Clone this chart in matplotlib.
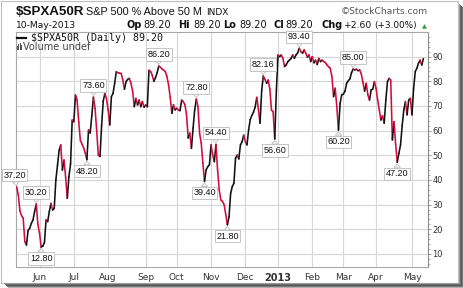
import matplotlib
matplotlib.use('Agg')
import matplotlib.pyplot as plt
from matplotlib.collections import LineCollection
from matplotlib.patches import Rectangle
import numpy as np
import pandas as pd

# NYSE holidays in the range (trading days only on the x axis)
holidays = ['2012-05-28', '2012-07-04', '2012-09-03', '2012-10-29', '2012-10-30',
            '2012-11-22', '2012-12-25', '2013-01-01', '2013-01-21', '2013-02-18',
            '2013-03-29']

# % of S&P 500 stocks above 50-day MA, daily closes, by month
may12 = [37.2, 34, 27.5, 25.5, 24.5, 15, 13.6, 19.5, 20.4, 22.4, 23.8, 27.2, 30.2, 22]
jun12 = [18.4, 12.8, 13.2, 14.5, 23.8, 23.1, 27.2, 30.5, 27.8, 28.5, 40, 46, 52, 54.2,
         44, 48.1, 41, 32.6, 41.4, 46.5, 64.3]
jul12 = [63.6, 74.5, 72.4, 63.6, 56, 54.5, 53, 51, 48.2, 60.3, 59, 66, 73.6, 69, 60,
         50, 49.5, 62, 72, 75.1, 73]
aug12 = [68.4, 62.3, 73.8, 75.1, 79.2, 83.9, 83.5, 83.3, 83.2, 80.5, 76.8, 79.9, 80.8,
         81.2, 79.2, 76, 69.7, 73.1, 70.4, 72.4, 69.7, 71.8, 69.5]
sep12 = [70.4, 69.7, 84.5, 84, 82.5, 80, 81.5, 83.5, 86.2, 85.7, 85, 84.5, 83.9, 82,
         78.5, 73.5, 67, 70.5, 68.4]
oct12 = [69.1, 68.4, 68.1, 72.4, 71.8, 70.5, 66.5, 57, 59, 52.8, 61, 68.4, 72.8, 69.7,
         58.9, 54.9, 46.8, 39.4, 44.1, 45.4, 46.1]
nov12 = [54.2, 50.1, 47.4, 54.4, 44.1, 36, 31.9, 31.3, 30, 26, 21.8, 25, 34.6, 37.3,
         38.7, 48.8, 50.1, 48.5, 54.2, 55.5, 58.2]
dec12 = [55.5, 54.2, 60.3, 64.5, 66.2, 67.5, 69.5, 73.5, 68.6, 63, 76.2, 82.16, 80.8,
         79.2, 80.5, 76.8, 68.3, 67.7, 56.6, 76.5]
jan13 = [90.7, 90, 90.7, 89.3, 86, 86.6, 88, 88.6, 89.3, 90.7, 89.3, 90.7, 91.5, 93.4,
         92, 91.4, 92.7, 91.4, 89.8, 90.7, 88]
feb13 = [90, 87.5, 88.6, 86.8, 89.3, 88, 88.6, 88, 87.6, 86.6, 85.9, 85.3, 81.9, 73.8,
         77.2, 69.7, 60.2, 71, 74.5]
mar13 = [74.8, 76, 79.2, 80.2, 81, 83.5, 85, 84.6, 84.9, 84.3, 84.6, 83, 79.5, 76,
         79.2, 74.5, 72.4, 76.5, 76.8, 79.9]
apr13 = [77.2, 72.4, 68.4, 64.3, 66, 63, 72.4, 79.9, 81.2, 80.5, 56.2, 63.6, 54.5, 47.2,
         50.8, 54.2, 62, 68.4, 71.8, 66.4, 72.4, 73.1]
may13 = [66.4, 77, 83.9, 85.3, 87.3, 88.6, 86.6, 89.2]

values = may12 + jun12 + jul12 + aug12 + sep12 + oct12 + nov12 + dec12 + jan13 + feb13 + mar13 + apr13 + may13

# indexes of the annotated highs / lows (+1 above, -1 below)
label_idx = [0, 12, 15, 43, 47, 87, 110, 115, 122, 129, 151, 158, 173, 197, 206, 233]
label_side = [1, 1, -1, -1, 1, 1, 1, -1, 1, -1, 1, -1, 1, -1, 1, -1]

bday = pd.offsets.CustomBusinessDay(holidays=holidays)
dates = pd.date_range('2012-05-11', '2013-05-10', freq=bday)
n = min(len(dates), len(values))
dates = dates[:n]
y = np.array(values[:n], dtype=float)
x = np.arange(n)

W, H = 464, 288
def fx(px):
    return px / W
def fy(py):
    return 1 - py / H

fig = plt.figure(figsize=(W / 100, H / 100), dpi=100)
fig.patch.set_facecolor('white')
ax = fig.add_axes([fx(16), fy(267), (428.3 - 16) / W, (267 - 32) / H])

# line coloured red on down days, black on up days
pts = np.column_stack([x, y])
segs = np.stack([pts[:-1], pts[1:]], axis=1)
cols = ['#d40b3c' if y[i + 1] < y[i] else '#111111' for i in range(n - 1)]
lc = LineCollection(segs, colors=cols, linewidths=1.15, capstyle='round', joinstyle='round', zorder=3)
ax.add_collection(lc)

ax.set_xlim(-0.4, 252)
ax.set_ylim(4.7, 100)

# month ticks at the first trading day of each month
mpos, mlab = [], []
for i in range(1, n):
    if dates[i].month != dates[i - 1].month:
        mpos.append(i)
        mlab.append('2013' if dates[i].month == 1 else dates[i].strftime('%b'))
ax.set_xticks(mpos)
ax.set_xticklabels(mlab, fontsize=6.5, color='#333333', family='DejaVu Sans')
for t in ax.get_xticklabels():
    if t.get_text() == '2013':
        t.set_fontweight('bold')
        t.set_fontsize(7)
ax.tick_params(axis='x', length=0, pad=4)

ax.yaxis.tick_right()
ax.set_yticks(np.arange(10, 100, 10))
ax.set_yticks(np.arange(6, 100, 2), minor=True)
ax.tick_params(axis='y', which='major', length=2, width=0.6, color='#888888', pad=1,
               labelsize=6, labelcolor='#333333')
ax.tick_params(axis='y', which='minor', length=1.5, width=0.5, color='#999999')
ax.tick_params(axis='y', which='minor', left=False)

ax.grid(True, which='major', color='#d6d6d6', linewidth=0.8, zorder=0)
ax.set_axisbelow(True)
for s in ['left', 'bottom', 'top']:
    ax.spines[s].set_color('#a8a8a8')
    ax.spines[s].set_linewidth(0.8)
ax.spines['right'].set_color('#8a8a8a')
ax.spines['right'].set_linewidth(0.8)

# value labels with pointers
for i, side in zip(label_idx, label_side):
    dx = -1.5 if i == 0 else 0
    ax.annotate('%.2f' % y[i], xy=(x[i], y[i]), xytext=(dx, 8.3 * side),
                textcoords='offset points', ha='center', va='center',
                fontsize=6.5, family='Liberation Sans', color='#111111',
                bbox=dict(boxstyle='square,pad=0.18', fc='white', ec='#c4c4c4', lw=0.7),
                arrowprops=dict(arrowstyle='wedge,tail_width=0.7', fc='white', ec='#c4c4c4',
                                lw=0.7, shrinkA=0, shrinkB=1.2),
                annotation_clip=False, zorder=5)

# legend block
fig.add_artist(plt.Line2D([fx(17), fx(26)], [fy(37.5), fy(37.5)], color='#111111', lw=1.6,
                          transform=fig.transFigure))
fig.text(fx(31.5), fy(40.8), '$SPXA50R (Daily) 89.20', fontsize=7.2, family='DejaVu Sans Mono',
         color='#111111', va='baseline')
for bx, bh in zip([16.8, 18.3, 19.8, 21.3], [3.5, 5.5, 6.5, 4.5]):
    fig.add_artist(Rectangle((fx(bx), fy(49.5)), 1 / W, bh / H, transform=fig.transFigure,
                             color='#555555', lw=0))
fig.text(fx(23), fy(49.6), 'Volume undef', fontsize=7, family='DejaVu Sans', color='#444444',
         va='baseline')

# header
fig.text(fx(15.5), fy(15.3), '$SPXA50R', fontsize=9.6, fontweight='bold', family='Liberation Sans',
         color='#111111', va='baseline')
fig.text(fx(86), fy(15), 'S&P 500 % Above 50 M', fontsize=7.8, family='Liberation Sans',
         color='#111111', va='baseline')
fig.text(fx(206), fy(15), 'INDX', fontsize=6.5, family='DejaVu Sans', color='#111111', va='baseline')
fig.text(fx(428), fy(14.5), '\u00a9StockCharts.com', fontsize=6.6, family='DejaVu Sans',
         color='#555555', va='baseline', ha='right')

fig.text(fx(16), fy(28.3), '10-May-2013', fontsize=6.6, family='DejaVu Sans', color='#111111',
         va='baseline')
hdr = [(126.7, 'Op', True, 7), (143.5, '89.20', False, 7), (177.7, 'Hi', True, 7),
       (193.8, '89.20', False, 7), (222.7, 'Lo', True, 7), (239.6, '89.20', False, 7),
       (273.3, 'Cl', True, 7), (285.6, '89.20', False, 7), (321.5, 'Chg', True, 7),
       (344.3, '+2.60', False, 6.6), (373.8, '(+3.00%)', False, 6.4)]
for hx, txt, bold, fs in hdr:
    fig.text(fx(hx), fy(28.3), txt, fontsize=fs, family='DejaVu Sans',
             fontweight='bold' if bold else 'normal', color='#111111', va='baseline')
fig.text(fx(424.5), fy(28), '\u25b2', fontsize=4.6, family='DejaVu Sans', color='#2f9a3a',
         va='baseline', ha='center')

# picture frame and drop shadow
fig.add_artist(Rectangle((fx(0.5), fy(283)), 458 / W, 282.5 / H, transform=fig.transFigure,
                         fill=False, ec='#bdbdbd', lw=0.8))
for k, c in enumerate(['#9a9a9a', '#6e6e6e', '#555555', '#7a7a7a', '#b0b0b0']):
    fig.add_artist(Rectangle((fx(459 + k), fy(288)), 1 / W, (288 - 4 - k) / H,
                             transform=fig.transFigure, color=c, lw=0))
    fig.add_artist(Rectangle((fx(4 + k), fy(284 + k)), (459 - 4) / W, 1 / H,
                             transform=fig.transFigure, color=c, lw=0))

fig.savefig('out.png', dpi=100, facecolor='white')
